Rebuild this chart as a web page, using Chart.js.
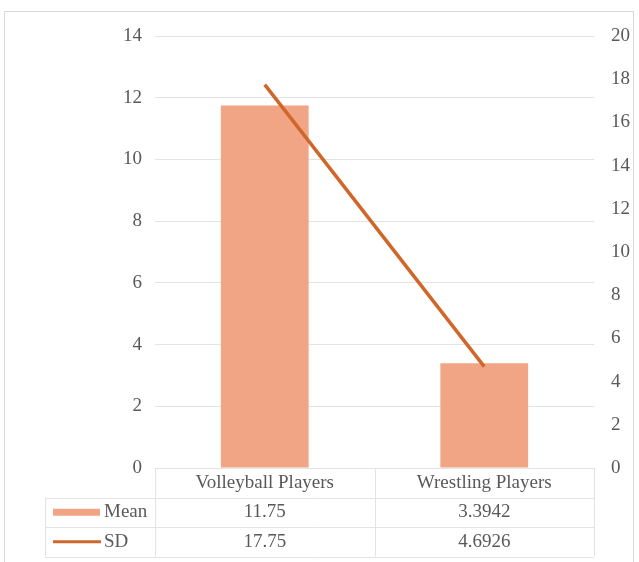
<!DOCTYPE html>
<html>
<head>
<meta charset="utf-8">
<script src="https://cdn.jsdelivr.net/npm/chart.js@4"></script>
<style>
  html, body { margin: 0; padding: 0; background: #fff; }
  #wrap { width: 639px; height: 562px; }
</style>
</head>
<body>
<div id="wrap"><canvas id="c" width="639" height="562"></canvas></div>
<script>
// Groups and their statistics
const categories = ['Volleyball Players', 'Wrestling Players'];
const meanValues = [11.75, 3.3942];
const sdValues = [17.75, 4.6926];
const seriesNames = ['Mean', 'SD'];

// Axis ranges
const leftAxis = { min: 0, max: 14, step: 2 };
const rightAxis = { min: 0, max: 20, step: 2 };

const barColor = '#F2A584';
const lineColor = '#D0672A';
const gridColor = '#E3E3E3';
const frameColor = '#D9D9D9';
const textColor = '#595959';
const serif = '"Liberation Serif", "Times New Roman", serif';

// Data table drawn beneath the plot, aligned to the category scale
const dataTable = {
  id: 'dataTable',
  afterDraw(chart) {
    const ctx = chart.ctx;
    const area = chart.chartArea;
    const x = chart.scales.x;
    const rowH = 29.5;
    const top = area.bottom;
    const r1 = top + rowH, r2 = top + rowH * 2, r3 = top + rowH * 3;
    const legendLeft = 45;
    const mid = (x.getPixelForValue(0) + x.getPixelForValue(1)) / 2;

    ctx.save();
    // outer frame
    ctx.strokeStyle = frameColor;
    ctx.lineWidth = 1;
    ctx.beginPath();
    ctx.moveTo(4.5, 600); ctx.lineTo(4.5, 11.5); ctx.lineTo(633.5, 11.5); ctx.lineTo(633.5, 600);
    ctx.stroke();

    // grid lines of the table
    ctx.strokeStyle = gridColor;
    ctx.beginPath();
    [area.left, mid, area.right].forEach(px => {
      const p = Math.round(px) + 0.5;
      ctx.moveTo(p, top); ctx.lineTo(p, r3);
    });
    ctx.moveTo(legendLeft + 0.5, r1); ctx.lineTo(legendLeft + 0.5, r3);
    [r1, r2, r3].forEach(py => {
      const p = Math.round(py) + 0.5;
      ctx.moveTo(legendLeft, p); ctx.lineTo(area.right, p);
    });
    ctx.stroke();

    ctx.fillStyle = textColor;
    ctx.font = '19px ' + serif;
    ctx.textBaseline = 'middle';
    ctx.textAlign = 'center';
    categories.forEach((c, i) => {
      ctx.fillText(c, x.getPixelForValue(i), top + rowH / 2);
      ctx.fillText(String(meanValues[i]), x.getPixelForValue(i), r1 + rowH / 2);
      ctx.fillText(String(sdValues[i]), x.getPixelForValue(i), r2 + rowH / 2);
    });

    // legend keys
    ctx.fillStyle = barColor;
    ctx.fillRect(53, r1 + rowH / 2 - 3.5, 47, 7);
    ctx.strokeStyle = lineColor;
    ctx.lineWidth = 3;
    ctx.beginPath();
    ctx.moveTo(53, r2 + rowH / 2); ctx.lineTo(101, r2 + rowH / 2);
    ctx.stroke();

    ctx.fillStyle = textColor;
    ctx.textAlign = 'left';
    ctx.fillText(seriesNames[0], 104, r1 + rowH / 2);
    ctx.fillText(seriesNames[1], 104, r2 + rowH / 2);
    ctx.restore();
  }
};

new Chart(document.getElementById('c'), {
  data: {
    labels: categories,
    datasets: [
      {
        type: 'line',
        label: seriesNames[1],
        data: sdValues,
        yAxisID: 'y1',
        borderColor: lineColor,
        borderWidth: 3.5,
        pointRadius: 0,
        tension: 0,
        order: 0
      },
      {
        type: 'bar',
        label: seriesNames[0],
        data: meanValues,
        yAxisID: 'y',
        backgroundColor: barColor,
        barPercentage: 0.4,
        categoryPercentage: 1,
        order: 1
      }
    ]
  },
  options: {
    responsive: false,
    devicePixelRatio: 1,
    animation: false,
    layout: { padding: { top: 36, left: 0, right: 0, bottom: 0 } },
    plugins: { legend: { display: false }, tooltip: { enabled: false } },
    scales: {
      x: {
        type: 'category',
        offset: true,
        grid: { display: false },
        border: { display: false },
        ticks: { display: false },
        afterFit(s) { s.height = 94; }
      },
      y: {
        position: 'left',
        min: leftAxis.min, max: leftAxis.max,
        ticks: { stepSize: leftAxis.step, color: textColor, font: { family: serif, size: 19 }, padding: 13 },
        grid: { color: gridColor, drawTicks: false },
        border: { display: false },
        afterFit(s) { s.width = 155; }
      },
      y1: {
        position: 'right',
        min: rightAxis.min, max: rightAxis.max,
        ticks: { stepSize: rightAxis.step, color: textColor, font: { family: serif, size: 19 }, padding: 17 },
        grid: { display: false, drawTicks: false },
        border: { display: false },
        afterFit(s) { s.width = 45; }
      }
    }
  },
  plugins: [dataTable]
});
</script>
</body>
</html>
